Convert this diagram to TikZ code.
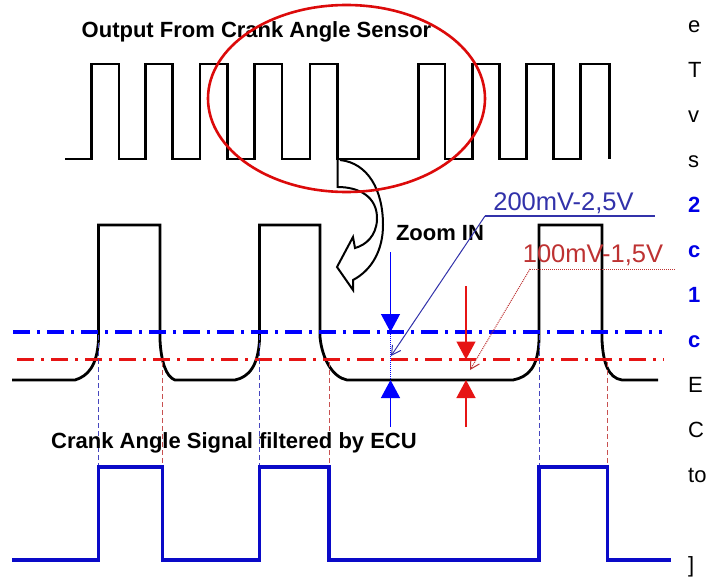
\documentclass[tikz,border=0pt]{standalone}
\usepackage{fontspec}
\setmainfont{Liberation Sans}
\usetikzlibrary{arrows.meta}
\definecolor{sigblue}{RGB}{10,10,200}
\definecolor{lineblue}{RGB}{0,0,255}
\definecolor{linered}{RGB}{230,20,20}
\definecolor{lblue}{RGB}{50,50,170}
\definecolor{lred}{RGB}{190,50,50}
\definecolor{dashblue}{RGB}{70,70,190}
\definecolor{dashred}{RGB}{200,80,80}
\definecolor{colblue}{RGB}{0,0,230}
\definecolor{ellred}{RGB}{220,10,10}
\tikzset{
  sig/.style={black, line width=2.8pt, line join=miter},
  ecusig/.style={sigblue, line width=3.5pt},
  bluelevel/.style={lineblue, line width=3.3pt, dash pattern=on 17pt off 7pt on 3pt off 7pt},
  redlevel/.style={linered, line width=3.3pt, dash pattern=on 17pt off 7pt on 3pt off 7pt},
  bluedrop/.style={dashblue, line width=1pt, dash pattern=on 5pt off 3pt},
  reddrop/.style={dashred, line width=1pt, dash pattern=on 5pt off 3pt},
  bigtitle/.style={inner sep=0pt, font=\fontsize{22}{26}\selectfont\bfseries},
  vlabel/.style={inner sep=0pt, font=\fontsize{25.5}{30}\selectfont},
  coltext/.style={inner sep=0pt, anchor=base west, font=\fontsize{22}{26}\selectfont},
  colbold/.style={coltext, text=colblue, font=\fontsize{22}{26}\selectfont\bfseries},
  bluearrow/.style={lineblue, line width=1.3pt, -{Triangle[width=19pt,length=18pt]}},
  redarrow/.style={linered, line width=1.3pt, -{Triangle[width=19pt,length=18pt]}},
  thinblue/.style={lblue, line width=1pt, -{Straight Barb[length=9pt,width=10pt]}},
  thinred/.style={lred, line width=1pt, densely dotted, -{Straight Barb[length=9pt,width=10pt]}},
}
\begin{document}
\begin{tikzpicture}[x=1pt,y=-1pt]
\clip (0,0) rectangle (707,581);
\fill[white] (0,0) rectangle (707,581);

% ---------------- top: sensor output ----------------
\draw[sig] (65,159)
  foreach \r/\f in {91.7/119,145.7/172.7,200/227.7,254.3/282,310/337.7,418.3/445,472.7/499.3,526.7/553.3,580.7/609.3}
  { -- (\r,159) -- (\r,64) -- (\f,64) -- (\f,159) };
\node[bigtitle, anchor=base] (t1) at (256.5,37) {Output From Crank Angle Sensor};

% hollow curved zoom arrow
\draw[black, line width=2pt, line join=miter]
  (337.7,159) -- (337.7,187)
  .. controls (358,187) and (378,196) .. (377,220)
  .. controls (376,236) and (366,245) .. (355,248)
  -- (353,237) -- (337,267) -- (353,290) -- (353,280)
  .. controls (372,270) and (383,250) .. (383,225)
  .. controls (383,190) and (368,163) .. (340,160);

% red ellipse
\draw[ellred, line width=2.6pt] (346.5,98.5) ellipse [x radius=138.5pt, y radius=93.5pt];

% ---------------- middle: zoomed signal ----------------
\draw[sig] (12,380) -- (75,380)
  .. controls (88,376) and (97,366) .. (98.5,340) -- (98.5,225) -- (160,225) -- (160,340)
  .. controls (161,361) and (166,377) .. (175,380) -- (235,380)
  .. controls (249,377) and (258,366) .. (259.5,340) -- (259.5,225) -- (320,225) -- (320,337)
  .. controls (322,358) and (332,377) .. (347,380) -- (513,380)
  .. controls (528,377) and (538,368) .. (539,340) -- (539,225) -- (602,225) -- (602,340)
  .. controls (603,362) and (608,378) .. (622,380) -- (658,380);

\draw[bluelevel] (13,332) -- (662,332);
\draw[redlevel] (17,359.5) -- (664,359.5);

% drop lines to ECU signal
\foreach \x in {98.5,259.5,539} \draw[bluedrop] (\x,335) -- (\x,467);
\foreach \x in {162.3,329,607.5} \draw[reddrop] (\x,362) -- (\x,467);

\node[bigtitle, anchor=base] (zin) at (440,240) {Zoom IN};

% threshold arrows
\coordinate (bA) at (390.5,252); \coordinate (bB) at (390.5,332);
\coordinate (bC) at (390.5,427); \coordinate (bD) at (390.5,380);
\coordinate (rA) at (466,286);   \coordinate (rB) at (466,359.5);
\coordinate (rC) at (466,427);   \coordinate (rD) at (466,380);
\draw[bluearrow] (bA) -- (bB);
\draw[bluearrow] (bC) -- (bD);
\draw[redarrow] (rA) -- (rB);
\draw[redarrow] (rC) -- (rD);
\draw[lineblue, line width=1pt, densely dotted] (bB) -- (bD);

% labels with leaders
\node[vlabel, anchor=base, text=lblue] (l200) at (563.5,210) {200mV-2,5V};
\node[vlabel, anchor=base, text=lred] (l100) at (593,262) {100mV-1,5V};
\coordinate (u2a) at (485,216); \coordinate (u2b) at (655,216);
\coordinate (u1a) at (530,269); \coordinate (u1b) at (675,269);
\coordinate (tip2) at (391,356); \coordinate (tip1) at (470,370);
\draw[lblue, line width=1.2pt] (u2a) -- (u2b);
\draw[lred, line width=1pt, densely dotted] (u1a) -- (u1b);
\draw[thinblue] (u2a) -- (tip2);
\draw[thinred] (u1a) -- (tip1);

% ---------------- bottom: ECU signal ----------------
\node[bigtitle, anchor=base] (t2) at (234,448) {Crank Angle Signal filtered by ECU};
\draw[ecusig] (12,560) -- (98.5,560) -- (98.5,467) -- (162.3,467) -- (162.3,560)
  -- (259.5,560) -- (259.5,467) -- (329,467) -- (329,560)
  -- (539,560) -- (539,467) -- (607.5,467) -- (607.5,560) -- (671,560);

% ---------------- clipped text column ----------------
\node[coltext] (r1) at (688,32) {e};
\node[coltext] (r2) at (688,77) {T};
\node[coltext] (r3) at (688,122) {v};
\node[coltext] (r4) at (688,167) {s};
\node[colbold] (r5) at (688,212) {2};
\node[colbold] (r6) at (688,257) {c};
\node[colbold] (r7) at (688,302) {1};
\node[colbold] (r8) at (688,347) {c};
\node[coltext] (r9) at (688,392) {E};
\node[coltext] (r10) at (688,437) {C};
\node[coltext] (r11) at (688,482) {to};
\node[coltext] (r12) at (688,572) {]};
\end{tikzpicture}
\end{document}
